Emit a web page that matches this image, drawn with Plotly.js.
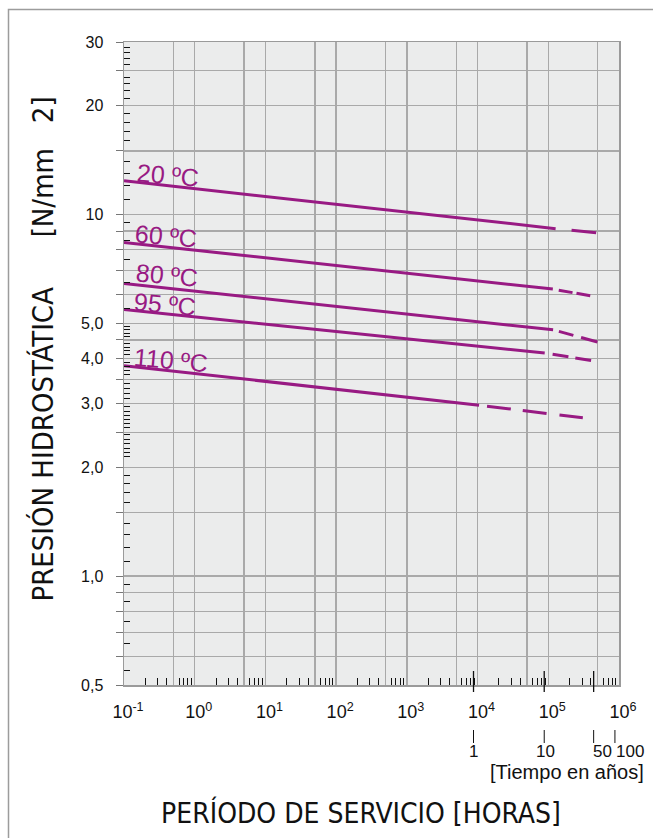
<!DOCTYPE html>
<html>
<head>
<meta charset="utf-8">
<script src="https://cdn.plot.ly/plotly-3.0.1.min.js"></script>
<style>html,body{margin:0;padding:0;background:#fff;}</style>
</head>
<body>
<div id="chart" style="width:653px;height:838px;"></div>
<script>
// ---------------- data ----------------
const temperatureLabels = ['20 ºC', '60 ºC', '80 ºC', '95 ºC', '110 ºC'];
const solidStartHours = [0.1, 0.1, 0.1, 0.1, 0.1];
const solidStartPressure = [12.4, 8.37, 6.45, 5.46, 3.82];
const solidEndHours = [1.27e5, 1.16e5, 1.17e5, 8.9e4, 1.05e4];
const solidEndPressure = [9.14, 6.22, 4.80, 4.14, 2.97];
const dashEndHours = [4.75e5, 3.95e5, 5.0e5, 4.03e5, 3.08e5];
const dashEndPressure = [8.91, 5.96, 4.44, 3.95, 2.74];

const xGridVals = [0.1, 0.5, 1, 5, 10, 50, 100, 500, 1e3, 5e3, 1e4, 5e4, 1e5, 5e5, 1e6];
const xGridText = ['10<sup>-1</sup>', '', '10<sup>0</sup>', '', '10<sup>1</sup>', '', '10<sup>2</sup>', '',
                   '10<sup>3</sup>', '', '10<sup>4</sup>', '', '10<sup>5</sup>', '', '10<sup>6</sup>'];
const yGridVals = [0.5, 0.6, 0.7, 0.8, 0.9, 1, 1.5, 2, 2.5, 3, 3.5, 4, 4.5, 5, 6, 7, 8, 9, 10, 15, 20, 25, 30];
const yGridText = ['0,5', '', '', '', '', '1,0', '', '2,0', '', '3,0', '', '4,0', '', '5,0', '', '', '', '', '10', '', '20', '', '30'];
const yMinorVals = [0.55, 0.65, 0.75, 0.85, 0.95, 1.1, 1.2, 1.3, 1.4, 1.6, 1.7, 1.8, 1.9,
                    2.14, 2.2, 2.26, 2.33, 2.39, 2.46, 2.57, 2.64, 2.71, 2.79, 2.86, 2.94,
                    3.1, 3.2, 3.3, 3.4, 3.6, 3.7, 3.8, 3.9, 4.1, 4.2, 4.3, 4.4, 4.6, 4.7, 4.8, 4.9,
                    5.5, 6.5, 7.5, 8.5, 9.5, 11, 12, 13, 14, 16, 17, 18, 19, 21, 22, 23, 24, 26, 27, 28, 29];
const xMinorMult = [2, 3, 4, 6, 7, 8, 9];
const xDecades = [-1, 0, 1, 2, 3, 4, 5];
const yearMarks = [1, 10, 50, 100];
const yearLabels = ['1', '10', '50', '100'];
const longTickYears = [1, 10, 50];
const hoursPerYear = 8760;

// ---------------- styles ----------------
const M = {l: 124, r: 34, t: 42, b: 153};
const W = 653, H = 838;
const PW = W - M.l - M.r, PH = H - M.t - M.b;
const px2paperX = px => (px - M.l) / PW;
const px2paperY = py => (H - M.b - py) / PH;

const purple = '#981a83';
const dashPatterns = [
  '0px,16px,26px,200px',
  '0px,6px,14px,4px,14px,200px',
  '0px,6px,15px,8px,17px,200px',
  '0px,8px,16px,7px,16px,200px',
  '0px,8px,24px,12px,24px,13px,24px,200px'
];
const labelDx = [43.5, 42, 42.5, 40.5, 46.5];
const labelDy = [6, 6.5, 8, 6, 6];

const xMinorVals = [];
xDecades.forEach(d => xMinorMult.forEach(m => xMinorVals.push(m * Math.pow(10, d))));

const traces = [];
temperatureLabels.forEach((name, i) => {
  traces.push({
    x: [solidStartHours[i], solidEndHours[i]],
    y: [solidStartPressure[i], solidEndPressure[i]],
    mode: 'lines', type: 'scatter', name: name, showlegend: false,
    line: {color: purple, width: 3}, hoverinfo: 'skip'
  });
  traces.push({
    x: [solidEndHours[i], dashEndHours[i]],
    y: [solidEndPressure[i], dashEndPressure[i]],
    mode: 'lines', type: 'scatter', name: name + ' ext', showlegend: false,
    line: {color: purple, width: 3, dash: dashPatterns[i]}, hoverinfo: 'skip'
  });
});

const annotations = [];
temperatureLabels.forEach((name, i) => {
  annotations.push({
    text: name, xref: 'x', yref: 'y',
    x: Math.log10(solidStartHours[i]), y: Math.log10(solidStartPressure[i]),
    xshift: labelDx[i], yshift: labelDy[i], xanchor: 'center', yanchor: 'middle',
    textangle: 5, showarrow: false,
    font: {family: 'Liberation Sans, Arial, sans-serif', size: 25, color: purple}
  });
});
const yearLabelShift = [0, 1, 9, 15];
yearMarks.forEach((yr, i) => {
  annotations.push({
    text: yearLabels[i], xref: 'x', yref: 'paper',
    x: Math.log10(yr * hoursPerYear), y: 0, yshift: -66, xshift: yearLabelShift[i],
    xanchor: 'center', yanchor: 'middle', showarrow: false,
    font: {family: 'Liberation Sans, Arial, sans-serif', size: 17, color: '#111'}
  });
});
annotations.push({
  text: '[Tiempo en años]', xref: 'paper', yref: 'paper',
  x: px2paperX(646), y: 0, yshift: -87, xanchor: 'right', yanchor: 'middle', showarrow: false,
  font: {family: 'Liberation Sans, Arial, sans-serif', size: 20, color: '#111'}
});

const shapes = [];
// outer frame
shapes.push({type: 'rect', xref: 'paper', yref: 'paper',
  x0: px2paperX(8.5), x1: px2paperX(700), y0: px2paperY(900), y1: px2paperY(9.5),
  line: {color: '#9c9c9c', width: 1.5}, fillcolor: 'rgba(0,0,0,0)', layer: 'below'});
longTickYears.forEach(yr => {
  shapes.push({type: 'line', xref: 'x', yref: 'paper',
    x0: yr * hoursPerYear, x1: yr * hoursPerYear,
    ysizemode: 'pixel', yanchor: 0, y0: -7, y1: 14,
    line: {color: '#111', width: 1.3}});
});
yearMarks.forEach(yr => {
  shapes.push({type: 'line', xref: 'x', yref: 'paper',
    x0: yr * hoursPerYear, x1: yr * hoursPerYear,
    ysizemode: 'pixel', yanchor: 0, y0: -58, y1: -45,
    line: {color: '#111', width: 1}});
});

const narrow = 'Liberation Sans Narrow, DejaVu Sans Condensed, Arial Narrow, Roboto, sans-serif';
const nb = '\u00a0';
const pad = s => '<span style="color:#ffffff">' + s + '</span>';

const layout = {
  width: W, height: H,
  margin: M,
  paper_bgcolor: '#ffffff',
  plot_bgcolor: '#ebecec',
  showlegend: false,
  xaxis: {
    type: 'log', range: [-1, 6], autorange: false,
    tickmode: 'array', tickvals: xGridVals, ticktext: xGridText,
    ticks: '', ticklabelstandoff: 10, ticklabelshift: 4,
    tickfont: {family: 'Liberation Sans, Arial, sans-serif', size: 18, color: '#111'},
    showgrid: true, gridcolor: '#a9a9a9', gridwidth: 1.3,
    showline: true, linecolor: '#9a9a9a', linewidth: 1.5, mirror: true,
    zeroline: false,
    minor: {tickmode: 'array', tickvals: xMinorVals, ticks: 'inside', ticklen: 7,
            tickwidth: 1, tickcolor: '#111', showgrid: false},
    title: {text: 'PERÍODO DE SERVICIO [HORAS]' + pad('iii'), standoff: 82,
            font: {family: narrow, size: 28, color: '#111'}}
  },
  yaxis: {
    type: 'log', range: [Math.log10(0.5), Math.log10(30)], autorange: false,
    tickmode: 'array', tickvals: yGridVals, ticktext: yGridText,
    ticks: 'outside', ticklen: 7, tickwidth: 1, tickcolor: '#777', ticklabelstandoff: 9,
    tickfont: {family: 'Liberation Sans, Arial, sans-serif', size: 16, color: '#111'},
    showgrid: true, gridcolor: '#a9a9a9', gridwidth: 1.3,
    showline: true, linecolor: '#9a9a9a', linewidth: 1.5, mirror: true,
    zeroline: false,
    minor: {tickmode: 'array', tickvals: yMinorVals, ticks: 'inside', ticklen: 6,
            tickwidth: 1, tickcolor: '#111', showgrid: false},
    title: {text: pad('iiii') + 'PRESIÓN HIDROSTÁTICA' + nb.repeat(6) + '[N/mm' + nb.repeat(3) + '2]',
            standoff: 19,
            font: {family: narrow, size: 29, color: '#111'}}
  },
  annotations: annotations,
  shapes: shapes
};

Plotly.newPlot('chart', traces, layout, {staticPlot: true, displayModeBar: false});
</script>
</body>
</html>
